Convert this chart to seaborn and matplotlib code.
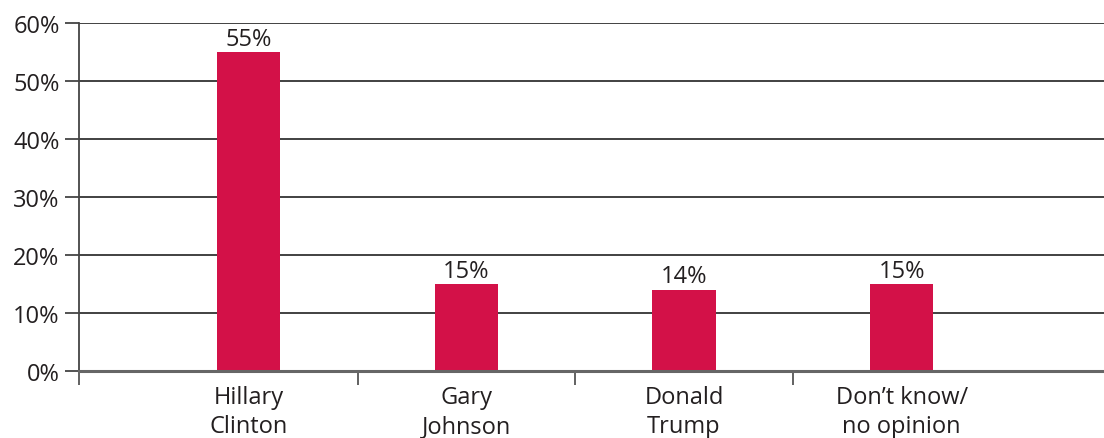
import matplotlib
matplotlib.use("Agg")
import matplotlib.pyplot as plt
import seaborn as sns
import pandas as pd

categories = ["Hillary\nClinton", "Gary\nJohnson", "Donald\nTrump", "Don\u2019t know/\nno opinion"]
values = [55, 15, 14, 15]
yticks = [0, 10, 20, 30, 40, 50, 60]
ytick_labels = ["0%", "10%", "20%", "30%", "40%", "50%", "60%"]

sns.set_theme(style="white")
plt.rcParams['font.family'] = ['Open Sans', 'DejaVu Sans']

text_color = "#231F20"
bar_color = "#D31148"

df = pd.DataFrame({"cat": categories, "val": values})

fig = plt.figure(figsize=(11.04, 4.39), dpi=100)
ax = fig.add_axes([79/1104, 1 - 372/439, 1 - 79/1104, (372 - 24.3)/439])

sns.barplot(data=df, x="cat", y="val", color=bar_color, width=0.29,
            saturation=1, linewidth=0, edgecolor="none", ax=ax, zorder=3)

ax.set_xlim(-0.78, 3.93)
ax.set_ylim(0, 60)
ax.set_yticks(yticks)
ax.set_yticklabels(ytick_labels, fontsize=17, color=text_color)
ax.set_xlabel("")
ax.set_ylabel("")

ax.yaxis.grid(True, color="#333333", linewidth=1.3, zorder=0)
ax.set_axisbelow(True)

for s in ["top", "right"]:
    ax.spines[s].set_visible(False)
ax.spines["left"].set_color("#444444")
ax.spines["left"].set_linewidth(1.3)
ax.spines["bottom"].set_color("#666666")
ax.spines["bottom"].set_linewidth(2.2)
ax.spines["bottom"].set_zorder(4)

ax.tick_params(axis="y", which="major", length=10, width=1.3, color="#444444",
               direction="out", pad=4, left=True)
ax.tick_params(axis="x", which="major", length=0, pad=10, labelsize=17,
               labelcolor=text_color)
ax.set_xticks(range(len(categories)))
ax.set_xticklabels(categories, fontsize=17, color=text_color, linespacing=1.3)
ax.set_xticks([-0.78, 0.5, 1.5, 2.5], minor=True)
ax.tick_params(axis="x", which="minor", length=10, width=1.3, color="#555555",
               direction="out", bottom=True)

for p, v in zip(ax.patches, values):
    ax.annotate(f"{v}%", (p.get_x() + p.get_width() / 2, p.get_height()),
                xytext=(0, 1), textcoords="offset points",
                ha="center", va="bottom", fontsize=17, color=text_color)

fig.savefig("out.png", dpi=100)
